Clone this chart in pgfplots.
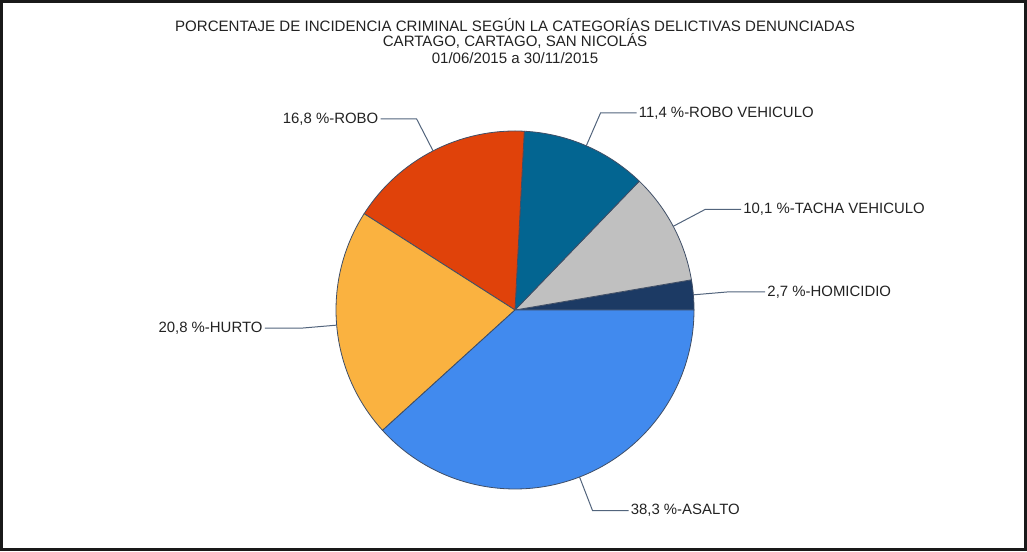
\documentclass[border=0pt]{standalone}
\usepackage{pgfplots}
\pgfplotsset{compat=1.18}
\usepackage{pgfplotstable}
\usepackage{fontspec}
\setmainfont{Liberation Sans}

\definecolor{cHom}{HTML}{1C3A64}
\definecolor{cTacha}{HTML}{C0C0C0}
\definecolor{cRoboVeh}{HTML}{036591}
\definecolor{cRobo}{HTML}{E0420A}
\definecolor{cHurto}{HTML}{FAB240}
\definecolor{cAsalto}{HTML}{418AEE}
\definecolor{edge}{HTML}{3F4E66}
\definecolor{leader}{HTML}{52647C}
\definecolor{txt}{HTML}{222222}

% value in percent, slices run counter-clockwise from 3 o'clock
\pgfplotstableread[col sep=semicolon]{
cat;value;color
HOMICIDIO;2.7;cHom
TACHA VEHICULO;10.1;cTacha
ROBO VEHICULO;11.4;cRoboVeh
ROBO;16.8;cRobo
HURTO;20.8;cHurto
ASALTO;38.3;cAsalto
}\piedata

\def\cx{515}\def\cy{242}\def\rad{179}

\begin{document}
\begin{tikzpicture}
\begin{axis}[
  width=770.25pt, height=414pt, scale only axis,
  xmin=0, xmax=1027, ymin=0, ymax=552,
  hide axis, clip=false,
]
\path (axis cs:0,0) rectangle (axis cs:1027,552);
\draw[black!90, line width=2.25pt] (axis cs:1.5,2) rectangle (axis cs:1025.5,550.5);

\node[txt, font=\fontsize{11.3}{13}\selectfont] at (axis cs:515,527) {PORCENTAJE DE INCIDENCIA CRIMINAL SEGÚN LA CATEGORÍAS DELICTIVAS DENUNCIADAS};
\node[txt, font=\fontsize{11.3}{13}\selectfont] at (axis cs:515,511) {CARTAGO, CARTAGO, SAN NICOLÁS};
\node[txt, font=\fontsize{11.3}{13}\selectfont] at (axis cs:515,494) {01/06/2015 a 30/11/2015};

\pgfplotstablegetrowsof{\piedata}
\pgfmathtruncatemacro{\nrows}{\pgfplotsretval-1}
\def\total{0}
\pgfplotsforeachungrouped \i in {0,...,\nrows}{%
  \pgfplotstablegetelem{\i}{value}\of\piedata
  \pgfmathsetmacro{\total}{\total+\pgfplotsretval}%
}
\def\acc{0}
\pgfplotsforeachungrouped \i in {0,...,\nrows}{%
  \pgfplotstablegetelem{\i}{value}\of\piedata \let\val\pgfplotsretval
  \pgfplotstablegetelem{\i}{color}\of\piedata \let\col\pgfplotsretval
  \pgfplotstablegetelem{\i}{cat}\of\piedata \let\cat\pgfplotsretval
  \pgfmathsetmacro{\aA}{\acc/\total*360}%
  \pgfmathsetmacro{\aB}{(\acc+\val)/\total*360}%
  \pgfmathsetmacro{\aM}{(\aA+\aB)/2}%
  \pgfmathsetmacro{\xA}{\cx+\rad*cos(\aA)}%
  \pgfmathsetmacro{\yA}{\cy+\rad*sin(\aA)}%
  \pgfmathsetmacro{\xP}{\cx+\rad*cos(\aM)}%
  \pgfmathsetmacro{\yP}{\cy+\rad*sin(\aM)}%
  \pgfmathsetmacro{\xB}{\cx+215*cos(\aM)}%
  \pgfmathsetmacro{\yB}{\cy+215*sin(\aM)}%
  \pgfmathtruncatemacro{\isR}{cos(\aM)>0}%
  \ifnum\isR=1 \pgfmathsetmacro{\xC}{\xB+36}\def\anc{west}%
  \else \pgfmathsetmacro{\xC}{\xB-36}\def\anc{east}\fi
  \pgfmathprintnumberto[fixed, fixed zerofill, precision=1, use comma, assume math mode=true]{\val}{\valtxt}%
  \edef\temp{%
    \noexpand\fill[\col, draw=edge, line width=0.6pt, line join=round]
      (axis cs:\cx,\cy) -- (axis cs:\xA,\yA)
      arc[start angle=\aA, end angle=\aB, radius=134.25pt] -- cycle;
    \noexpand\draw[leader, line width=0.75pt]
      (axis cs:\xP,\yP) -- (axis cs:\xB,\yB) -- (axis cs:\xC,\yB);
    \noexpand\node[txt, anchor=\anc, inner sep=1.5pt,
      font=\noexpand\fontsize{11.2}{13}\noexpand\selectfont]
      at (axis cs:\xC,\yB) {\unexpanded\expandafter{\valtxt}~\noexpand\%-\cat};
  }\temp
  \pgfmathsetmacro{\acc}{\acc+\val}%
}
\end{axis}
\end{tikzpicture}
\end{document}
